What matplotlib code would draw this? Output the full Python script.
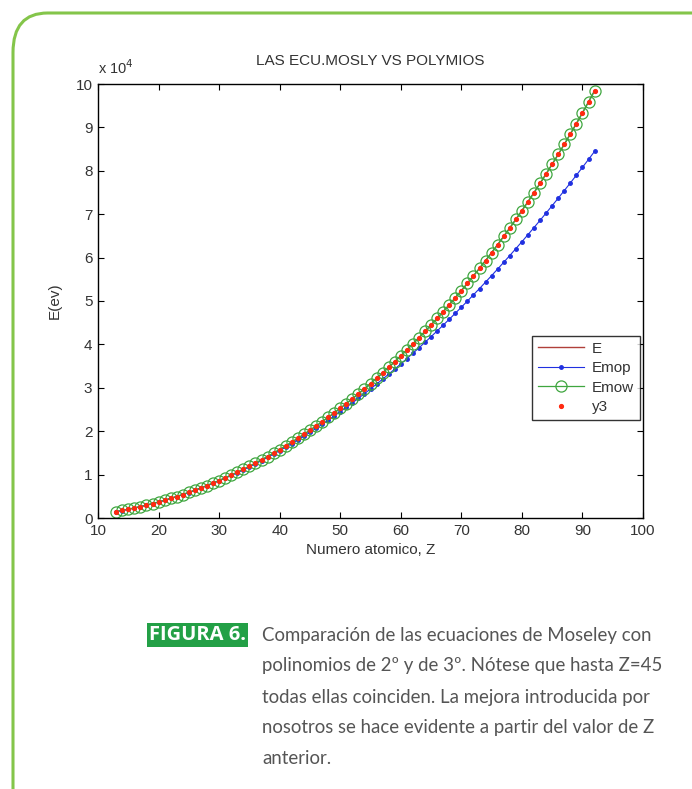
import numpy as np
import matplotlib
matplotlib.use("Agg")
import matplotlib.pyplot as plt
from matplotlib.patches import FancyBboxPatch
from matplotlib.ticker import FuncFormatter, MultipleLocator
from matplotlib import font_manager

# Atomic number Z = 13 (Al) ... 92 (U)
Z = np.arange(13, 93)

E = [1487, 1740, 2013, 2307, 2622, 2957, 3313, 3691, 4090, 4510,
     4952, 5414, 5898, 6403, 6930, 7478, 8047, 8638, 9251, 9886,
     10543, 11222, 11924, 12649, 13395, 14165, 14958, 15775, 16615, 17479,
     18367, 19279, 20216, 21177, 22163, 23174, 24210, 25271, 26359, 27472,
     28612, 29779, 30973, 32194, 33442, 34720, 36026, 37361, 38725, 40118,
     41542, 42996, 44482, 45998, 47547, 49128, 50742, 52389, 54070, 55790,
     57532, 59318, 61140, 63001, 64896, 66832, 68804, 70819, 72872, 74969,
     77108, 79290, 81520, 83780, 86100, 88470, 90884, 93350, 95868, 98439]

# Moseley law values (eV)
EMOP = [1469, 1724, 1999, 2295, 2611, 2948, 3305, 3682, 4080, 4498,
        4937, 5396, 5875, 6375, 6895, 7436, 7997, 8578, 9180, 9802,
        10445, 11108, 11791, 12495, 13219, 13964, 14729, 15514, 16320, 17146,
        17993, 18860, 19747, 20655, 21583, 22532, 23501, 24490, 25500, 26530,
        27581, 28652, 29743, 30855, 31987, 33140, 34313, 35506, 36720, 37954,
        39209, 40484, 41779, 43095, 44431, 45788, 47165, 48562, 49980, 51418,
        52877, 54356, 55855, 57375, 58915, 60476, 62057, 63658, 65280, 66922,
        68585, 70268, 71971, 73695, 75439, 77204, 78989, 80794, 82620, 84466]

# 2nd and 3rd degree fits coincide with E at this scale
EMOW = E
Y3 = E

CAPTION = ["Comparación de las ecuaciones de Moseley con",
           "polinomios de 2º y de 3º. Nótese que hasta Z=45",
           "todas ellas coinciden. La mejora introducida por",
           "nosotros se hace evidente a partir del valor de Z",
           "anterior."]

W, H = 692, 789
TXT = "#333333"
FONT = "Liberation Sans"

installed = {f.name for f in font_manager.fontManager.ttflist}
CAP_FONT = "Liberation Sans Narrow" if "Liberation Sans Narrow" in installed else "Lato"

fig = plt.figure(figsize=(W / 100, H / 100), dpi=100)

# green rounded frame
frame = FancyBboxPatch((13 / W, -40 / H), 720 / W, (H - 13 + 40) / H,
                       boxstyle="round,pad=0,rounding_size=0.05",
                       transform=fig.transFigure, fill=False,
                       edgecolor="#84c54a", linewidth=2.2, clip_on=False)
fig.patches.append(frame)

ax = fig.add_axes([98 / W, 1 - 518 / H, 545 / W, 434 / H])

ax.plot(Z, E, "-", color="#b0403a", linewidth=1.0, label="E")
ax.plot(Z, EMOP, ".-", color="#2030e0", markersize=5, linewidth=0.8, label="Emop")
ax.plot(Z, EMOW, "o-", color="#3fa63f", markerfacecolor="none",
        markersize=8, markeredgewidth=0.9, linewidth=0.9, label="Emow")
ax.plot(Z, Y3, ".", color="#ff2a10", markersize=5.5, label="y3")

ax.set_xlim(10, 100)
ax.set_ylim(0, 100000)
ax.xaxis.set_major_locator(MultipleLocator(10))
ax.yaxis.set_major_locator(MultipleLocator(10000))
ax.yaxis.set_major_formatter(FuncFormatter(lambda v, p: "%d" % round(v / 1e4)))
ax.tick_params(direction="in", top=True, right=True, length=4, width=0.8,
               labelsize=11, labelcolor=TXT, pad=4)
for lab in ax.get_xticklabels() + ax.get_yticklabels():
    lab.set_family(FONT)
for s in ax.spines.values():
    s.set_linewidth(1.0)

ax.text(0.0, 1.015, r"x 10$^4$", transform=ax.transAxes, fontsize=10.5,
        color=TXT, family=FONT, ha="left", va="bottom")
ax.set_title("LAS ECU.MOSLY VS POLYMIOS", fontsize=11, color=TXT,
             family=FONT, pad=14)
ax.set_xlabel("Numero atomico, Z", fontsize=11, color=TXT, family=FONT,
              labelpad=4)
ax.set_ylabel("E(ev)", fontsize=11, color=TXT, family=FONT, labelpad=10)

leg = ax.legend(loc="upper right", bbox_to_anchor=(0.994, 0.42),
                fontsize=11, frameon=True, fancybox=False, handlelength=3.0,
                borderpad=0.4, labelspacing=0.35, handletextpad=0.5,
                borderaxespad=0)
leg.get_frame().set_edgecolor("black")
leg.get_frame().set_linewidth(1.0)
for t in leg.get_texts():
    t.set_color(TXT)
    t.set_family(FONT)

# caption: fit the first line to the width it has in the reference (~390 px)
fig.text(149 / W, 1 - 635 / H, "FIGURA 6.", fontsize=14.5, fontweight="bold",
         color="white", family="Open Sans", ha="left", va="center",
         bbox=dict(boxstyle="square,pad=0.12", facecolor="#23a046",
                   edgecolor="none"))
texts = []
for i, line in enumerate(CAPTION):
    texts.append(fig.text(262 / W, 1 - (635 + 31 * i) / H, line, fontsize=15,
                          color="#555555", family=CAP_FONT, ha="left",
                          va="center"))
renderer = fig.canvas.get_renderer()
w0 = texts[0].get_window_extent(renderer).width
size = min(15 * 390 / w0, 16.5)
for t in texts:
    t.set_fontsize(size)

fig.savefig("out.png", dpi=100)
